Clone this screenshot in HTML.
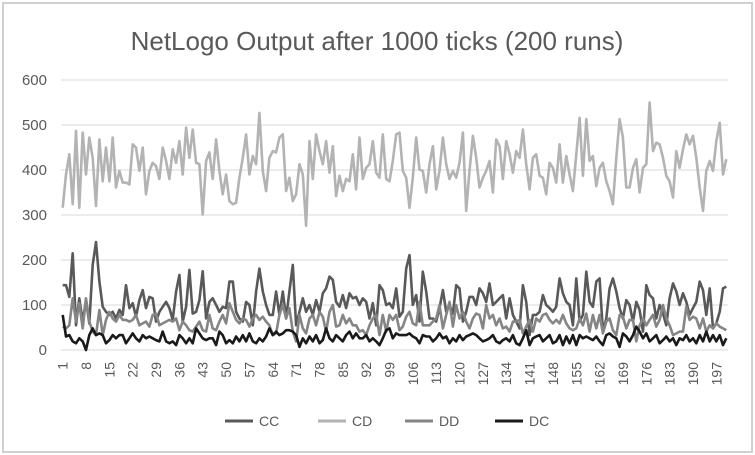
<!DOCTYPE html>
<html><head><meta charset="utf-8"><style>
html,body{margin:0;padding:0;background:#fff;}
svg{display:block;font-family:"Liberation Sans",sans-serif;}
</style></head><body>
<svg id="chart" width="755" height="455" viewBox="0 0 755 455">
<rect x="3" y="3" width="749" height="449" fill="#fff" stroke="#d0d0d0" stroke-width="2"/>
<text x="377" y="50" text-anchor="middle" font-size="26" fill="#595959">NetLogo Output after 1000 ticks (200 runs)</text>
<g id="grid"></g>
<g id="ylabels"></g>
<g id="xlabels"></g>
<g id="series"></g>
<g id="legend"></g>
</svg>
<script>
const yTicks=[0,100,200,300,400,500,600];
const seriesNames=["CC","CD","DD","DC"];
const seriesColors=["#595959","#b3b3b3","#858585","#1a1a1a"];
const CC=[144,144,118,215,55,115,63,111,59,189,240,152,96,85,78,85,70,89,78,144,93,104,74,111,133,93,118,115,63,85,96,107,93,67,130,167,63,96,178,81,85,111,175,70,107,115,100,85,96,
93,152,152,85,70,63,107,100,55,130,181,130,100,78,78,130,78,130,70,130,189,55,85,115,85,100,78,111,85,126,137,163,156,107,96,122,93,126,115,118,100,115,107,70,104,55,144,133,100,104,
93,137,74,85,181,211,100,122,63,174,130,70,70,63,93,133,85,100,81,144,137,63,85,118,118,100,137,126,107,148,100,107,115,122,70,115,78,63,48,144,107,33,78,78,85,122,100,93,85,
96,159,126,107,100,55,159,63,78,174,107,96,152,159,41,70,137,159,130,93,70,111,100,63,107,89,41,144,122,115,70,100,81,55,115,148,130,100,126,107,78,93,107,152,133,78,137,48,59,85,137,141];
const CD=[316,390,435,324,487,316,483,390,472,427,320,468,375,450,375,472,361,398,372,372,368,457,450,398,450,346,398,416,409,380,450,420,380,446,416,464,390,494,427,490,416,413,301,420,439,380,468,398,346,
390,331,324,327,383,427,479,390,431,413,527,398,353,427,442,439,472,479,353,383,331,346,413,390,276,464,380,479,442,413,464,394,453,342,387,353,380,375,435,357,472,380,405,413,464,394,383,479,380,375,
420,479,483,398,383,316,383,472,401,398,350,413,453,357,398,472,413,380,398,383,416,483,309,398,476,427,361,383,398,420,350,468,453,380,464,435,394,442,427,490,413,357,427,435,387,383,346,416,405,
372,457,372,431,390,353,435,516,387,513,420,431,364,405,416,375,353,324,427,513,472,361,361,405,424,350,405,413,550,442,461,457,427,387,375,339,442,405,446,479,457,476,427,361,309,398,420,398,464,505,390,424];
const DD=[52,48,55,115,63,104,48,115,63,41,33,89,33,67,85,70,63,78,67,67,63,67,78,55,59,63,52,78,81,55,59,63,67,63,70,44,63,55,44,41,52,63,44,41,78,48,44,63,78,
59,104,85,67,59,70,67,52,70,78,67,74,63,55,33,37,78,100,70,93,41,19,78,48,37,70,78,55,85,74,41,85,100,52,55,78,59,70,55,55,41,44,33,55,70,78,33,78,41,78,
67,78,44,52,74,85,59,55,107,55,55,55,63,70,100,48,78,107,52,100,70,85,63,48,70,81,78,48,100,70,78,55,70,48,52,41,63,63,67,37,52,67,41,70,63,78,81,67,59,
67,59,78,59,48,44,48,70,55,81,41,78,48,78,37,63,70,44,33,78,74,48,67,67,19,55,70,55,67,78,52,67,100,70,55,33,37,41,41,96,67,74,70,48,70,41,55,48,59,52,48,44];
const DC=[78,30,33,19,15,26,19,0,33,48,33,37,33,15,22,33,26,33,33,15,26,37,26,19,33,26,30,26,22,19,41,19,15,19,11,33,26,15,26,15,48,37,26,22,26,26,11,41,33,
15,22,15,30,19,33,19,37,19,15,26,19,30,48,33,41,33,37,44,44,41,33,7,26,15,30,19,33,15,22,48,26,19,33,26,19,33,41,26,37,26,26,33,19,26,19,11,26,44,48,
26,37,33,33,33,37,30,26,15,33,30,30,19,26,37,26,30,15,26,19,33,22,30,33,37,33,26,19,22,26,33,19,15,22,26,19,33,15,11,26,44,11,26,30,33,19,26,33,15,
19,33,11,30,15,33,11,33,26,30,26,22,30,19,11,33,37,30,26,7,37,30,19,33,52,41,26,37,19,26,33,15,22,30,19,26,11,26,22,33,19,26,15,33,19,41,19,33,19,33,11,26];
const xTickLabels=[1,8,15,22,29,36,43,50,57,64,71,78,85,92,99,106,113,120,127,134,141,148,155,162,169,176,183,190,197];

const NS="http://www.w3.org/2000/svg";
const plotL=61,plotR=728,y0=350,yTop=80,yMax=600,nCat=200;
function yScale(v){return y0-(v/yMax)*(y0-yTop);}
function xScale(i){return plotL+(i-0.5)*(plotR-plotL)/nCat;}
function mk(tag,attrs,parent){const e=document.createElementNS(NS,tag);for(const k in attrs)e.setAttribute(k,attrs[k]);parent.appendChild(e);return e;}
const grid=document.getElementById('grid'),yl=document.getElementById('ylabels'),xl=document.getElementById('xlabels'),sg=document.getElementById('series'),lg=document.getElementById('legend');
yTicks.forEach(t=>{
  const l=mk('line',{x1:plotL,x2:plotR,y1:yScale(t),y2:yScale(t),stroke:'#d9d9d9','stroke-width':1},grid);
  
  
  const tx=mk('text',{x:47,y:yScale(t)+5,'text-anchor':'end','font-size':15,fill:'#595959'},yl);
  tx.textContent=t;
  
  
});
xTickLabels.forEach(c=>{
  const x=xScale(c);
  const tx=mk('text',{x:0,y:0,'text-anchor':'end','font-size':14,fill:'#595959',transform:`translate(${x+5},362) rotate(-90)`},xl);
  tx.textContent=c;
  
  
});
const allSeries=[CC,CD,DD,DC];
allSeries.forEach((arr,si)=>{
  const pts=arr.map((v,i)=>xScale(i+1).toFixed(1)+','+yScale(v).toFixed(1)).join(' ');
  const p=mk('polyline',{points:pts,fill:'none',stroke:seriesColors[si],'stroke-width':2.6,'stroke-linejoin':'round'},sg);
  
  
});
const legX=[225,318,405,495];
seriesNames.forEach((n,i)=>{
  const l=mk('line',{x1:legX[i],x2:legX[i]+28,y1:421,y2:421,stroke:seriesColors[i],'stroke-width':3},lg);
  
  
  const t=mk('text',{x:legX[i]+34,y:426,'font-size':14,fill:'#595959'},lg);
  t.textContent=n;
  
  
});
</script>
</body></html>
